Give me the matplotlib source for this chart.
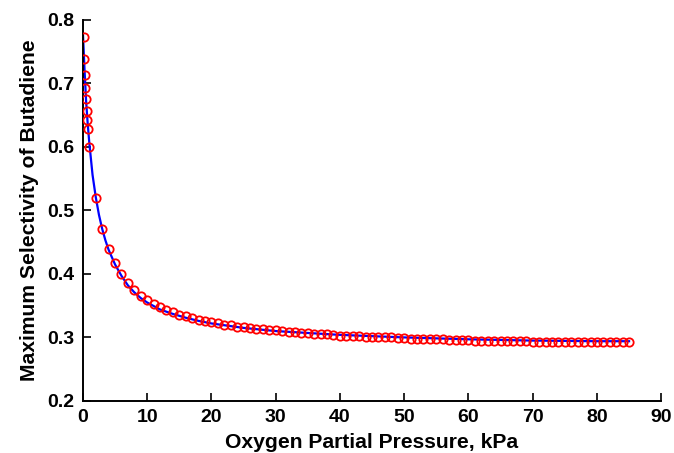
import matplotlib
matplotlib.use("Agg")
import matplotlib.pyplot as plt

# Measured data (red circles)
pressure = [0.1, 0.2, 0.3, 0.4, 0.5, 0.6, 0.7, 0.8, 1, 2, 3, 4, 5, 6, 7, 8, 9, 10,
            11, 12, 13, 14, 15, 16, 17, 18, 19, 20, 21, 22, 23, 24, 25, 26, 27, 28, 29, 30,
            31, 32, 33, 34, 35, 36, 37, 38, 39, 40, 41, 42, 43, 44, 45, 46, 47, 48, 49, 50,
            51, 52, 53, 54, 55, 56, 57, 58, 59, 60, 61, 62, 63, 64, 65, 66, 67, 68, 69, 70,
            71, 72, 73, 74, 75, 76, 77, 78, 79, 80, 81, 82, 83, 84, 85]
selectivity = [0.773, 0.739, 0.713, 0.693, 0.675, 0.657, 0.642, 0.629, 0.600, 0.519,
               0.471, 0.439, 0.417, 0.400, 0.386, 0.375, 0.366, 0.359,
               0.353, 0.348, 0.343, 0.340, 0.336, 0.333, 0.331, 0.328, 0.326, 0.324,
               0.322, 0.320, 0.319, 0.317, 0.316, 0.315, 0.314, 0.313, 0.312, 0.311,
               0.310, 0.309, 0.308, 0.307, 0.307, 0.306, 0.305, 0.305, 0.304, 0.303,
               0.303, 0.302, 0.302, 0.301, 0.301, 0.300, 0.300, 0.300, 0.299, 0.299,
               0.298, 0.298, 0.298, 0.297, 0.297, 0.297, 0.296, 0.296, 0.296, 0.296,
               0.295, 0.295, 0.295, 0.295, 0.294, 0.294, 0.294, 0.294, 0.294, 0.293,
               0.293, 0.293, 0.293, 0.293, 0.293, 0.293, 0.293, 0.293, 0.292, 0.292,
               0.292, 0.292, 0.292, 0.292, 0.292]

# Model fit (blue line)
fit_pressure = [0, 0.25, 0.5, 0.75, 1, 1.5, 2, 2.5, 3, 3.5, 4, 5, 6, 7, 8, 9, 10, 12, 14,
                16, 18, 20, 25, 30, 35, 40, 50, 60, 70, 80, 85]
fit_selectivity = [0.780, 0.722, 0.672, 0.636, 0.606, 0.556, 0.521, 0.493, 0.471, 0.453,
                   0.438, 0.415, 0.397, 0.382, 0.371, 0.362, 0.355, 0.344, 0.337,
                   0.331, 0.326, 0.322, 0.315, 0.310, 0.307, 0.304, 0.300, 0.297,
                   0.295, 0.294, 0.294]

xticks = [0, 10, 20, 30, 40, 50, 60, 70, 80, 90]
yticks = [0.2, 0.3, 0.4, 0.5, 0.6, 0.7, 0.8]

plt.rcParams['font.family'] = ['Liberation Sans', 'DejaVu Sans']

fig = plt.figure(figsize=(6.74, 4.53), dpi=100)
ax = fig.add_axes([0.123, 0.115, 0.858, 0.841])

ax.plot(fit_pressure, fit_selectivity, color='#0000ff', linewidth=1.6, zorder=2)
ax.plot(pressure, selectivity, linestyle='none', marker='o', markersize=6,
        markerfacecolor='none', markeredgecolor='#ff0000', markeredgewidth=1.3, zorder=3)

ax.set_xlim(0, 90)
ax.set_ylim(0.2, 0.8)
ax.set_xticks(xticks)
ax.set_yticks(yticks)
ax.set_xticklabels([str(t) for t in xticks])
ax.set_yticklabels(['%.1f' % t for t in yticks])

for s in ['top', 'right']:
    ax.spines[s].set_visible(False)
for s in ['left', 'bottom']:
    ax.spines[s].set_linewidth(1.4)

ax.tick_params(direction='in', length=6, width=1.2, labelsize=14, pad=6)
for lbl in ax.get_xticklabels() + ax.get_yticklabels():
    lbl.set_fontweight('bold')

ax.set_xlabel('Oxygen Partial Pressure, kPa', fontsize=15.2, fontweight='bold', labelpad=5)
ax.set_ylabel('Maximum Selectivity of Butadiene', fontsize=15.2, fontweight='bold', labelpad=6)

fig.savefig('out.png', dpi=100)
